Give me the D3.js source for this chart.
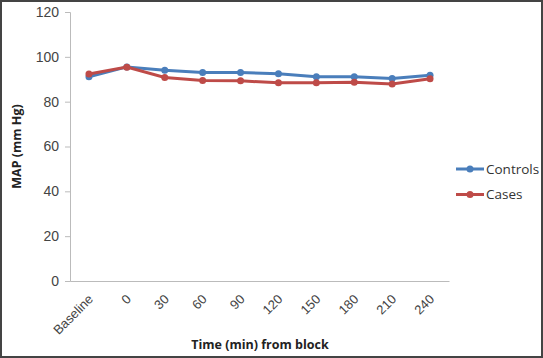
<!DOCTYPE html>
<html>
<head>
<meta charset="utf-8">
<script src="https://cdn.jsdelivr.net/npm/d3@7"></script>
<style>
  body { margin: 0; background: #fff; }
  svg { display: block; font-family: "Open Sans", "Liberation Sans", sans-serif; }
</style>
</head>
<body>
<svg width="543" height="358"></svg>
<script>
// categories and values
var categories = ["Baseline", "0", "30", "60", "90", "120", "150", "180", "210", "240"];
var controls = [91.1, 95.5, 94.0, 93.0, 93.0, 92.4, 91.1, 91.1, 90.3, 91.8];
var cases = [92.3, 95.4, 90.8, 89.4, 89.3, 88.4, 88.4, 88.7, 87.9, 90.2];
var yTicks = [0, 20, 40, 60, 80, 100, 120];

var series = [
  {name: "Controls", values: controls, color: "#4a7ebb"},
  {name: "Cases", values: cases, color: "#be4b48"}
];

var svg = d3.select("svg"),
    margin = {top: 12, right: 94, bottom: 77, left: 70},
    width = +svg.attr("width") - margin.left - margin.right,
    height = +svg.attr("height") - margin.top - margin.bottom;

// outer frame
svg.append("rect")
    .attr("x", 1).attr("y", 1)
    .attr("width", 541).attr("height", 356)
    .attr("fill", "#fff")
    .attr("stroke", "#444")
    .attr("stroke-width", 2);

var g = svg.append("g").attr("transform", "translate(" + margin.left + "," + margin.top + ")");

var x = d3.scaleBand().domain(categories).range([0, width]);
var y = d3.scaleLinear().domain([0, 120]).range([height, 0]);

// y axis
var yAxis = g.append("g")
    .call(d3.axisLeft(y).tickValues(yTicks).tickSize(5).tickPadding(6));
yAxis.select(".domain").attr("stroke", "#bbb");
yAxis.selectAll(".tick line").attr("stroke", "#bbb");
yAxis.selectAll("text").attr("font-size", 14).attr("fill", "#444");

// x axis
var xAxis = g.append("g")
    .attr("transform", "translate(0," + height + ")")
    .call(d3.axisBottom(x).tickSize(0).tickPadding(0));
xAxis.select(".domain").attr("stroke", "#bbb");
xAxis.selectAll("text")
    .attr("font-size", 13)
    .attr("fill", "#444")
    .attr("text-anchor", "end")
    .attr("dy", 0)
    .attr("transform", "translate(5,19) rotate(-45)");

// lines and markers
var line = d3.line()
    .x(function(d, i) { return x(categories[i]) + x.bandwidth() / 2; })
    .y(function(d) { return y(d); });

series.forEach(function(s) {
  g.append("path")
      .datum(s.values)
      .attr("fill", "none")
      .attr("stroke", s.color)
      .attr("stroke-width", 3)
      .attr("d", line);
  g.selectAll(null)
      .data(s.values)
      .enter().append("circle")
      .attr("cx", function(d, i) { return x(categories[i]) + x.bandwidth() / 2; })
      .attr("cy", function(d) { return y(d); })
      .attr("r", 3.5)
      .attr("fill", s.color);
});

// axis titles
svg.append("text")
    .attr("transform", "translate(21," + (margin.top + height / 2) + ") rotate(-90)")
    .attr("text-anchor", "middle")
    .attr("font-size", 12.5)
    .attr("font-weight", "bold")
    .attr("fill", "#222")
    .text("MAP (mm Hg)");

svg.append("text")
    .attr("x", 260)
    .attr("y", 349)
    .attr("text-anchor", "middle")
    .attr("font-size", 12.5)
    .attr("font-weight", "bold")
    .attr("fill", "#222")
    .text("Time (min) from block");

// legend
var legend = svg.append("g").attr("transform", "translate(456,169)");
series.forEach(function(s, i) {
  var row = legend.append("g").attr("transform", "translate(0," + (i * 25.5) + ")");
  row.append("line").attr("x1", 0).attr("x2", 28).attr("stroke", s.color).attr("stroke-width", 3);
  row.append("circle").attr("cx", 14).attr("r", 3.5).attr("fill", s.color);
  row.append("text").attr("x", 30).attr("dy", "0.35em")
      .attr("font-size", 13.5).attr("fill", "#333").text(s.name);
});
</script>
</body>
</html>
